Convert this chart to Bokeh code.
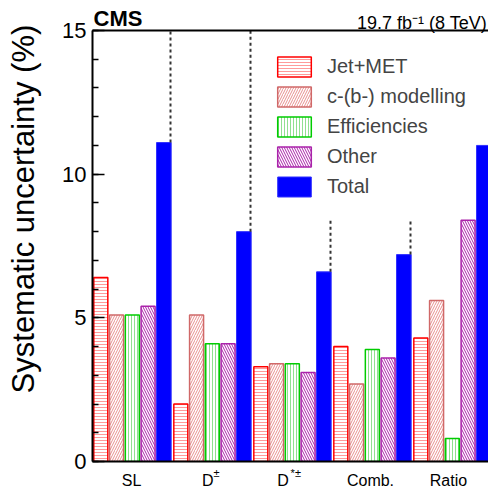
import numpy as np
from bokeh.plotting import figure
from bokeh.models import LinearAxis, FixedTicker
from bokeh.embed import file_html
from bokeh.resources import INLINE

# ---- data ----
groups = ["SL", "D±", "D*±", "Comb.", "Ratio"]
group_main = ["SL", "D", "D", "Comb.", "Ratio"]
group_sup = ["", "±", "*±", "", ""]
series = ["Jet+MET", "c-(b-) modelling", "Efficiencies", "Other", "Total"]
jet_met = [6.4, 2.0, 3.3, 4.0, 4.3]
cb_model = [5.1, 5.1, 3.4, 2.7, 5.6]
effic = [5.1, 4.1, 3.4, 3.9, 0.8]
other = [5.4, 4.1, 3.1, 3.6, 8.4]
total = [11.1, 8.0, 6.6, 7.2, 11.0]
sep_x = [1, 2, 3, 4]
sep_bottom = [11.1, 8.0, 6.6, 7.2]
sep_top = [15, 15, 8.4, 8.4]
y_ticks = [0, 5, 10, 15]
y_title = "Systematic uncertainty (%)"
exp_label = "CMS"
lumi_label = "19.7 fb⁻¹ (8 TeV)"

FONT = "Liberation Sans"

p = figure(width=488, height=491, x_range=(0.025, 4.975), y_range=(0, 15),
           output_backend="svg", toolbar_location=None,
           min_border_left=92, min_border_right=0, min_border_top=30, min_border_bottom=29)
p.outline_line_color = None
p.grid.visible = False
p.background_fill_color = "white"

idx = np.arange(len(groups))
styles = [
    dict(vals=jet_met, line_color="#ff0000", hatch_color="#ff9a9a", hatch_pattern="-", hatch_scale=3),
    dict(vals=cb_model, line_color="#d06868", hatch_color="#e89090", hatch_pattern="/", hatch_scale=5),
    dict(vals=effic, line_color="#00cc00", hatch_color="#90e090", hatch_pattern="|", hatch_scale=3),
    dict(vals=other, line_color="#aa22aa", hatch_color="#aa22aa", hatch_pattern="\\", hatch_scale=5),
]
for j, st in enumerate(styles):
    p.vbar(x=idx + 0.129 + j * 0.197, top=st["vals"], bottom=0, width=0.175,
           fill_color="white", line_color=st["line_color"], line_width=1.5,
           hatch_pattern=st["hatch_pattern"], hatch_color=st["hatch_color"],
           hatch_scale=st["hatch_scale"], hatch_weight=1, legend_label=series[j])
p.vbar(x=idx + 0.129 + 4 * 0.197, top=total, bottom=0, width=0.183,
       fill_color="#0000ff", line_color="#3030ff", line_width=1, legend_label=series[4])

p.segment(x0=sep_x, x1=sep_x, y0=sep_bottom, y1=sep_top, line_color="#333333",
          line_width=2, line_dash="3 3")

def no_ticks(ax):
    ax.major_tick_in = 0
    ax.major_tick_out = 0
    ax.minor_tick_in = 0
    ax.minor_tick_out = 0

# ---- y axis ----
yax = p.yaxis[0]
yax.ticker = FixedTicker(ticks=y_ticks, minor_ticks=list(range(0, 16)))
yax.major_tick_in = 12
yax.major_tick_out = 0
yax.minor_tick_in = 6
yax.minor_tick_out = 0
yax.axis_line_width = 2
yax.major_tick_line_width = 1.5
yax.minor_tick_line_width = 1.5
yax.major_label_text_font = FONT
yax.major_label_text_font_size = "22px"
yax.major_label_text_color = "black"
yax.major_label_standoff = 6

# y title: outer left axis, label placed toward the top like the original
ytitle_pos = {8.785: y_title}
yax2 = LinearAxis(ticker=FixedTicker(ticks=list(ytitle_pos.keys())), major_label_overrides=ytitle_pos,
                  major_label_orientation="vertical", major_label_text_font=FONT,
                  major_label_text_font_size="31px", major_label_text_color="black",
                  major_label_standoff=18, axis_line_color=None)
no_ticks(yax2)
p.add_layout(yax2, "left")

# ---- x axis: superscripts on the inner axis, main labels on outer axis ----
sup_pos = {1.575: group_sup[1], 2.566: group_sup[2]}
main_pos = {0.5125: group_main[0], 1.465: group_main[1], 2.406: group_main[2],
            3.5: group_main[3], 4.475: group_main[4]}

xax = p.xaxis[0]
xax.ticker = FixedTicker(ticks=list(sup_pos.keys()))
xax.major_label_overrides = sup_pos
xax.major_label_text_font = FONT
xax.major_label_text_font_size = "11px"
xax.major_label_text_color = "black"
xax.major_label_standoff = 5
no_ticks(xax)
xax.axis_line_width = 2

xax2 = LinearAxis(ticker=FixedTicker(ticks=list(main_pos.keys())), major_label_overrides=main_pos,
                  major_label_text_font=FONT, major_label_text_font_size="16px",
                  major_label_text_color="black", major_label_standoff=-10,
                  axis_line_color=None)
no_ticks(xax2)
p.add_layout(xax2, "below")

# ---- top: inner axis = frame line + lumi label, outer axis = CMS ----
lumi_pos = {4.144: lumi_label}
top_ax = LinearAxis(ticker=FixedTicker(ticks=list(lumi_pos.keys())), major_label_overrides=lumi_pos,
                    major_label_text_font=FONT, major_label_text_font_size="18px",
                    major_label_text_color="black", major_label_standoff=-2, axis_line_width=2)
no_ticks(top_ax)
p.add_layout(top_ax, "above")

cms_pos = {0.344: exp_label}
top_ax2 = LinearAxis(ticker=FixedTicker(ticks=list(cms_pos.keys())), major_label_overrides=cms_pos,
                     major_label_text_font=FONT, major_label_text_font_size="22px",
                     major_label_text_font_style="bold", major_label_text_color="black",
                     major_label_standoff=-21, axis_line_color=None)
no_ticks(top_ax2)
p.add_layout(top_ax2, "above")

# ---- legend ----
lg = p.legend[0]
lg.location = (181, 262)
lg.border_line_color = None
lg.background_fill_alpha = 0
lg.padding = 0
lg.margin = 0
lg.spacing = 5
lg.glyph_width = 42
lg.glyph_height = 25
lg.label_height = 25
lg.label_standoff = 12
lg.label_text_font = FONT
lg.label_text_font_size = "20px"

open("out.html", "w").write(file_html(p, INLINE))
